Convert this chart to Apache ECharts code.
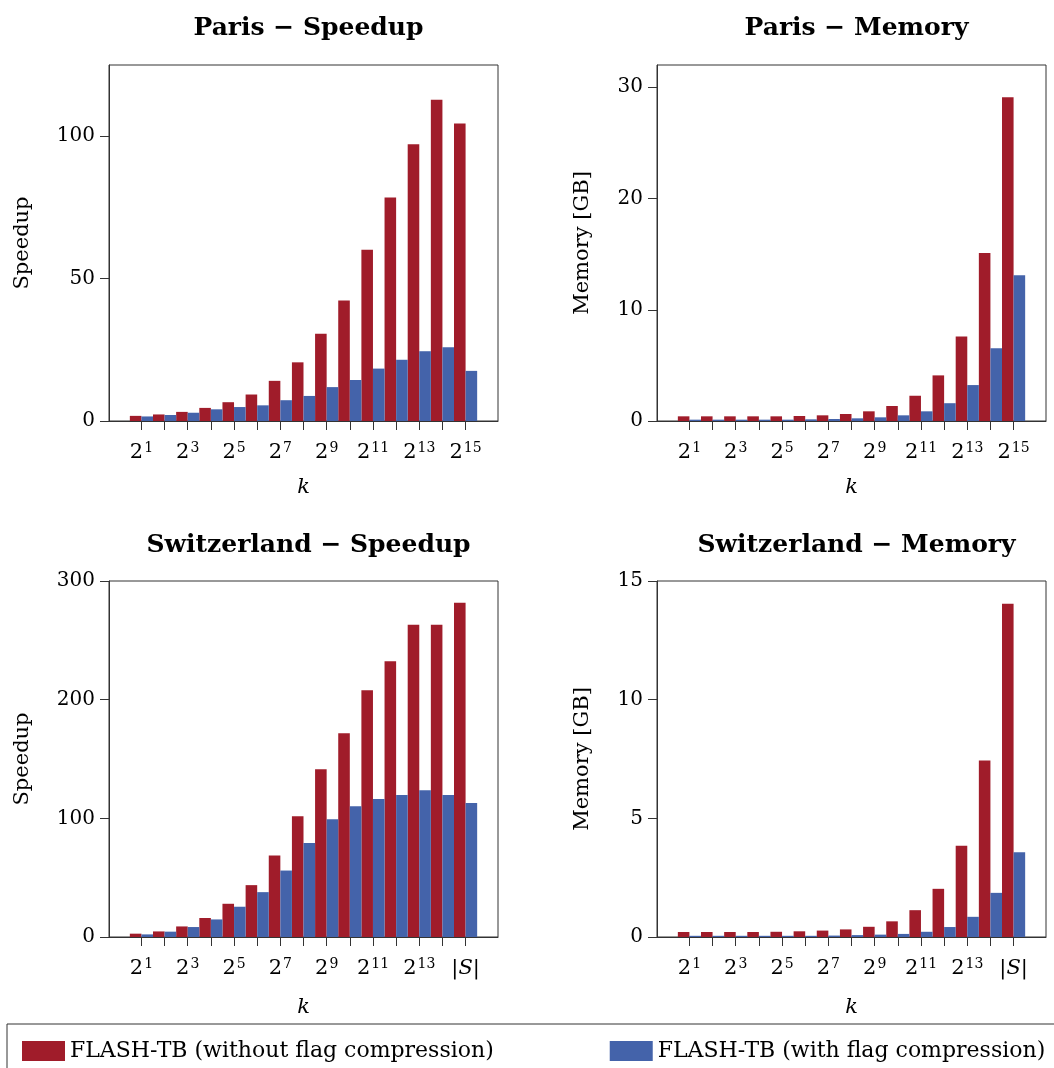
<!DOCTYPE html>
<html><head><meta charset="utf-8">
<script src="https://cdn.jsdelivr.net/npm/echarts@6/dist/echarts.min.js"></script>
<style>html,body{margin:0;padding:0;background:#fff}#c{width:1054px;height:1068px}</style>
</head><body><div id="c"></div>
<script>
// k index: 1..15 => 2^1..2^15 (Paris), 2^1..2^14, |S| (Switzerland)
const kIndex = [1,2,3,4,5,6,7,8,9,10,11,12,13,14,15];
const labelIdx = [1,3,5,7,9,11,13,15];

const parisSpeedNoComp = [1.8,2.3,3.2,4.6,6.6,9.3,14.1,20.6,30.6,42.3,60.1,78.5,97.2,112.8,104.5];
const parisSpeedComp   = [1.6,2.1,2.9,4.1,4.9,5.5,7.3,8.8,11.9,14.4,18.4,21.5,24.5,25.9,17.6];
const parisMemNoComp   = [0.42,0.42,0.42,0.42,0.42,0.45,0.51,0.63,0.87,1.35,2.27,4.1,7.6,15.1,29.1];
const parisMemComp     = [0.12,0.12,0.12,0.12,0.12,0.15,0.18,0.24,0.33,0.51,0.87,1.6,3.23,6.55,13.1];
const swissSpeedNoComp = [2.8,4.7,8.9,16,28,43.7,68.6,101.7,141.3,171.8,208,232.4,263.2,263.2,281.7];
const swissSpeedComp   = [2.2,4.5,8.4,14.8,25.5,37.8,56,79.3,99.2,110.1,116.3,119.7,123.6,119.7,113];
const swissMemNoComp   = [0.21,0.21,0.21,0.21,0.22,0.24,0.27,0.32,0.43,0.66,1.13,2.03,3.84,7.44,14.04];
const swissMemComp     = [0.05,0.05,0.05,0.05,0.05,0.05,0.06,0.08,0.1,0.13,0.22,0.42,0.85,1.86,3.57];

const titles = ['Paris \u2212 Speedup','Paris \u2212 Memory','Switzerland \u2212 Speedup','Switzerland \u2212 Memory'];
const yNames = ['Speedup','Memory [GB]','Speedup','Memory [GB]'];
const yMax = [125,32,300,15];
const yTicks = [[0,50,100],[0,10,20,30],[0,100,200,300],[0,5,10,15]];
const seriesNames = ['FLASH-TB (without flag compression)','FLASH-TB (with flag compression)'];

const RED = '#A01C2A', BLUE = '#4463AA';
const FONT = 'DejaVu Serif';
const AX = '#333';

const grids = [
  {left:109, top:65, width:389, height:356},
  {left:657, top:65, width:389, height:356},
  {left:109, top:581, width:389, height:356},
  {left:657, top:581, width:389, height:356}
];

function xLabel(v, swiss){
  if (swiss && v === 15) return '{b||}{i|S}{b||}';
  return '{b|2}{s|' + v + '}';
}

const xAxes = grids.map((g,i)=>({
  type:'value', gridIndex:i, min:-0.4, max:16.4,
  name:'k', nameLocation:'middle', nameGap: i<2 ? 56 : 60,
  nameTextStyle:{fontFamily:FONT, fontStyle:'italic', fontSize:21, color:'#000'},
  axisLine:{show:true, onZero:false, lineStyle:{color:AX, width:1}},
  axisTick:{show:true, length:9, lineStyle:{color:AX}, customValues:kIndex},
  splitLine:{show:false},
  axisLabel:{
    customValues:labelIdx, margin:20, color:'#000',
    formatter:(v)=>xLabel(v, i>=2),
    rich:{
      b:{fontFamily:FONT, fontSize:21, color:'#000', lineHeight:24},
      s:{fontFamily:FONT, fontSize:14, color:'#000', verticalAlign:'top', lineHeight:24, padding:[0,0,12,1]},
      i:{fontFamily:FONT, fontStyle:'italic', fontSize:21, color:'#000', lineHeight:24}
    }
  }
}));

const yAxes = grids.map((g,i)=>({
  type:'value', gridIndex:i, min:0, max:yMax[i],
  name:yNames[i], nameLocation:'middle', nameGap: (i%2===0) ? 76 : 64,
  nameTextStyle:{fontFamily:FONT, fontSize:21, color:'#000'},
  axisLine:{show:true, onZero:false, lineStyle:{color:AX, width:1}},
  axisTick:{show:true, length:9, lineStyle:{color:AX}, customValues:yTicks[i]},
  splitLine:{show:false},
  axisLabel:{customValues:yTicks[i], margin:14, fontFamily:FONT, fontSize:20, color:'#000'}
}));

const dataSets = [
  [parisSpeedNoComp, parisSpeedComp],
  [parisMemNoComp, parisMemComp],
  [swissSpeedNoComp, swissSpeedComp],
  [swissMemNoComp, swissMemComp]
];

const series = [];
dataSets.forEach((pair, i)=>{
  pair.forEach((vals, j)=>{
    series.push({
      type:'bar', name:seriesNames[j], xAxisIndex:i, yAxisIndex:i,
      barGap:'0%', barCategoryGap:'0%',
      itemStyle:{color: j===0 ? RED : BLUE},
      emphasis:{disabled:true},
      data: kIndex.map((k, n)=>[k, vals[n]])
    });
  });
});

const titleCenters = [[303.5,11],[851.5,11],[303.5,528],[851.5,528]];

const option = {
  animation:false,
  backgroundColor:'#fff',
  title: titles.map((t,i)=>({
    text:t, left:titleCenters[i][0], top:titleCenters[i][1], textAlign:'center',
    textStyle:{fontFamily:FONT, fontWeight:'bold', fontSize:25, color:'#000'}
  })),
  grid: grids.map(g=>Object.assign({show:true, borderColor:AX, borderWidth:1, backgroundColor:'transparent'}, g)),
  xAxis:xAxes,
  yAxis:yAxes,
  legend:{
    data:seriesNames, left:7, top:1024, width:1200, orient:'horizontal',
    padding:[16,40,20,15], itemGap:116, itemWidth:43, itemHeight:20, icon:'rect',
    borderColor:AX, borderWidth:1,
    textStyle:{fontFamily:FONT, fontSize:22, color:'#000'}
  },
  series:series
};

const chart = echarts.init(document.getElementById('c'), null, {renderer:'canvas'});
chart.setOption(option);
</script>
</body></html>
